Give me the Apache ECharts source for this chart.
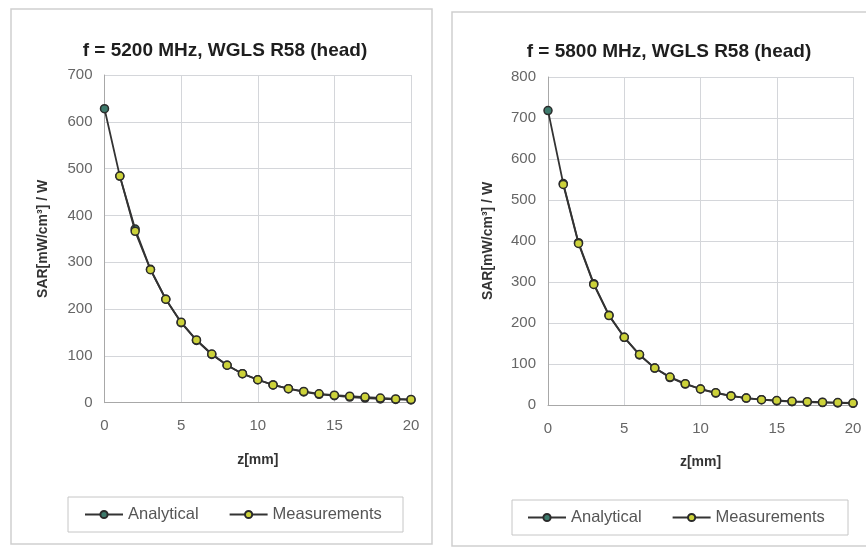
<!DOCTYPE html>
<html>
<head>
<meta charset="utf-8">
<title>SAR vs depth</title>
<script src="https://cdn.jsdelivr.net/npm/echarts@6/dist/echarts.min.js"></script>
<style>
  html, body { margin: 0; padding: 0; background: #ffffff; }
  #chart { width: 866px; height: 551px; }
</style>
</head>
<body>
<div id="chart"></div>
<script>
// Depth below the phantom surface, mm
const zMm = [0, 1, 2, 3, 4, 5, 6, 7, 8, 9, 10, 11, 12, 13, 14, 15, 16, 17, 18, 19, 20];

// SAR per watt, mW/cm³ / W, at 5200 MHz
const analytical5200 = [628, 484, 371, 285, 221, 171, 133, 103, 80, 62, 49, 38, 30, 23, 18, 15, 12, 10, 8, 7, 6];
const measured5200   = [null, 484, 366, 284, 221, 172, 134, 104, 80, 62, 49, 38, 30, 24, 19, 16, 14, 12, 10, 8, 7];

// SAR per watt, mW/cm³ / W, at 5800 MHz
const analytical5800 = [718, 540, 396, 296, 219, 165, 122, 90, 67, 51, 39, 29, 22, 17, 13, 10, 8, 7, 6, 5, 4];
const measured5800   = [null, 538, 394, 294, 218, 165, 123, 90, 68, 52, 39, 30, 22, 17, 13, 11, 9, 8, 7, 6, 5];

const titles = ['f = 5200 MHz, WGLS R58 (head)', 'f = 5800 MHz, WGLS R58 (head)'];
const seriesNames = ['Analytical', 'Measurements'];
const yMax = [700, 800];
const yTitle = 'SAR[mW/cm³] / W';
const xTitle = 'z[mm]';

const pairs = (vals) => zMm.map((z, i) => [z, vals[i]]).filter(p => p[1] !== null);

const FONT = 'Liberation Sans, Arial, sans-serif';
const LINE = '#333333';
const GRID_LINE = '#d4d6da';

const grids = [
  { left: 104.5, top: 75, width: 306.5, height: 327.7 },
  { left: 548, top: 77, width: 305, height: 328 }
];

function xAxisFor(idx) {
  return {
    type: 'value', gridIndex: idx, min: 0, max: 20, interval: 5,
    name: xTitle, nameLocation: 'middle', nameGap: 50,
    nameTextStyle: { fontFamily: FONT, fontWeight: 'bold', fontSize: 14, color: '#333' },
    axisLine: { show: true, lineStyle: { color: '#a8a8a8', width: 1 } },
    axisTick: { show: false },
    axisLabel: { fontFamily: FONT, fontSize: 15, color: '#666', margin: 16 },
    splitLine: { show: true, lineStyle: { color: GRID_LINE, width: 1 } }
  };
}

function yAxisFor(idx) {
  return {
    type: 'value', gridIndex: idx, min: 0, max: yMax[idx], interval: 100,
    name: yTitle, nameLocation: 'middle', nameGap: idx === 0 ? 54 : 53, nameRotate: 90,
    nameTextStyle: { fontFamily: FONT, fontWeight: 'bold', fontSize: 14, color: '#333' },
    axisLine: { show: true, lineStyle: { color: '#a8a8a8', width: 1 } },
    axisTick: { show: false },
    axisLabel: { fontFamily: FONT, fontSize: 15, color: '#666', margin: 12 },
    splitLine: { show: true, lineStyle: { color: GRID_LINE, width: 1 } }
  };
}

function lineSeries(name, idx, data, fill) {
  return {
    name, type: 'line', xAxisIndex: idx, yAxisIndex: idx,
    data: pairs(data),
    symbol: 'circle', symbolSize: 8,
    lineStyle: { color: LINE, width: 1.8 },
    itemStyle: { color: fill, borderColor: '#2b2b2b', borderWidth: 1.5 },
    z: name === 'Analytical' ? 2 : 3,
    animation: false
  };
}

const ANALYTICAL_FILL = '#3d7a6c';
const MEASURED_FILL = '#ccd23a';

const legendStyle = {
  padding: 0, itemWidth: 38, itemHeight: 9, itemGap: 30,
  data: seriesNames,
  textStyle: { fontFamily: FONT, fontSize: 16.5, color: '#555' }
};

const option = {
  backgroundColor: '#ffffff',
  animation: false,
  title: [
    { text: titles[0], left: 220, top: 36, textAlign: 'center',
      textStyle: { fontFamily: FONT, fontWeight: 'bold', fontSize: 19, color: '#1e1e1e' } },
    { text: titles[1], left: 664, top: 37, textAlign: 'center',
      textStyle: { fontFamily: FONT, fontWeight: 'bold', fontSize: 19, color: '#1e1e1e' } }
  ],
  graphic: [
    { type: 'rect', shape: { x: 11, y: 9, width: 421, height: 535 },
      style: { fill: 'none', stroke: '#cfcfcf', lineWidth: 1.5 }, silent: true },
    { type: 'rect', shape: { x: 452, y: 12, width: 420, height: 534 },
      style: { fill: 'none', stroke: '#cfcfcf', lineWidth: 1.5 }, silent: true },
    { type: 'rect', shape: { x: 68, y: 497, width: 335, height: 35 },
      style: { fill: 'none', stroke: '#c6c6c6', lineWidth: 1 }, silent: true },
    { type: 'rect', shape: { x: 512, y: 500, width: 336, height: 35 },
      style: { fill: 'none', stroke: '#c6c6c6', lineWidth: 1 }, silent: true }
  ],
  legend: [
    Object.assign({ left: 84, top: 506 }, legendStyle),
    Object.assign({ left: 527, top: 509 }, legendStyle)
  ],
  grid: grids,
  xAxis: [xAxisFor(0), xAxisFor(1)],
  yAxis: [yAxisFor(0), yAxisFor(1)],
  series: [
    lineSeries('Analytical', 0, analytical5200, ANALYTICAL_FILL),
    lineSeries('Measurements', 0, measured5200, MEASURED_FILL),
    lineSeries('Analytical', 1, analytical5800, ANALYTICAL_FILL),
    lineSeries('Measurements', 1, measured5800, MEASURED_FILL)
  ]
};

const chart = echarts.init(document.getElementById('chart'), null, { renderer: 'canvas' });
chart.setOption(option);
</script>
</body>
</html>
